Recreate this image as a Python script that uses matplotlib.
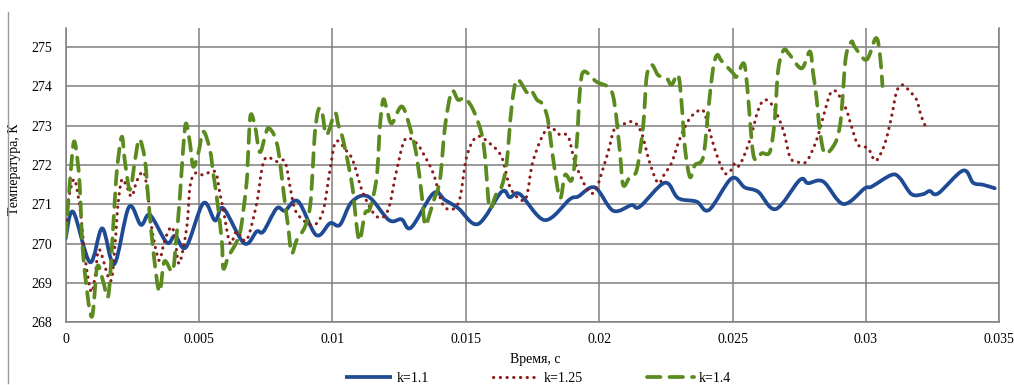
import numpy as np
import matplotlib
matplotlib.use("Agg")
import matplotlib.pyplot as plt
from matplotlib.lines import Line2D
from matplotlib.path import Path
from matplotlib.patches import PathPatch

plt.rcParams['font.family'] = ['Liberation Serif', 'DejaVu Serif']

# ---- data (time in ms, temperature in K) ----
t_k11_ms = [0.00, 0.28, 0.91, 1.37, 1.82, 2.37, 2.82, 3.16, 3.79, 4.10, 4.51, 5.16, 5.60, 5.91,
            6.69, 7.16, 7.41, 7.91, 8.22, 8.71, 9.39, 9.91, 10.28, 10.72, 11.34, 12.12, 12.59,
            12.95, 13.78, 14.22, 14.72, 15.46, 16.34, 16.65, 17.03, 17.96, 18.90, 19.21, 19.84,
            20.52, 21.21, 21.52, 22.46, 22.96, 23.65, 24.12, 24.96, 25.46, 25.96, 26.62, 27.52,
            27.83, 28.40, 29.15, 29.96, 30.21, 30.96, 31.27, 31.71, 32.14, 32.39, 32.71, 33.64,
            34.02, 34.39, 34.83]
T_k11 = [270.14, 270.81, 269.53, 270.39, 269.48, 270.93, 270.48, 270.73, 270.03, 270.20, 269.91,
         271.03, 270.59, 270.90, 270.01, 270.31, 270.31, 270.90, 270.84, 271.08, 270.22, 270.52,
         270.48, 271.06, 271.20, 270.60, 270.62, 270.41, 271.28, 271.11, 270.90, 270.50, 271.32,
         271.18, 271.26, 270.60, 271.13, 271.20, 271.43, 270.84, 270.98, 270.94, 271.55, 271.16,
         271.07, 270.86, 271.66, 271.43, 271.32, 270.88, 271.62, 271.54, 271.58, 271.01, 271.41,
         271.45, 271.75, 271.67, 271.26, 271.26, 271.34, 271.28, 271.86, 271.55, 271.50, 271.41]

t_k125_ms = [0.00, 0.10, 0.31, 0.47, 0.60, 0.72, 0.95, 1.10, 1.26, 1.68, 1.85, 1.96, 2.10, 2.26,
             2.47, 2.67, 2.91, 3.05, 3.22, 3.41, 3.53, 3.72, 3.97, 4.10, 4.26, 4.54, 4.66, 4.85,
             5.16, 5.60, 5.78, 5.91, 6.16, 6.41, 6.78, 7.16, 7.35, 7.53, 7.91, 8.22, 8.41, 8.60,
             8.97, 9.34, 9.66, 9.91, 10.13, 10.53, 10.78, 11.15, 11.66, 12.08, 12.41, 12.72, 13.13,
             13.40, 13.78, 14.18, 14.72, 15.03, 15.41, 15.90, 16.34, 16.65, 17.03, 17.28, 17.53,
             18.06, 18.53, 18.84, 19.15, 19.75, 20.28, 20.59, 21.03, 21.30, 21.59, 21.90, 22.21,
             22.46, 22.71, 23.03, 23.40, 23.78, 23.96, 24.27, 24.52, 24.71, 24.90, 25.09, 25.27,
             25.65, 25.96, 26.21, 26.52, 26.90, 27.15, 27.40, 27.77, 28.15, 28.40, 28.65, 28.84,
             29.02, 29.27, 29.46, 29.71, 30.08, 30.37, 30.71, 30.96, 31.15, 31.37, 31.65, 31.90,
             32.08, 32.29]
T_k125 = [270.43, 271.11, 271.64, 271.20, 270.52, 269.67, 268.78, 269.16, 269.85, 269.05, 270.00,
          271.00, 271.62, 271.50, 271.20, 271.60, 271.83, 271.40, 270.43, 269.76, 269.59, 270.10,
          270.43, 270.10, 269.50, 270.43, 271.45, 271.79, 271.75, 271.83, 271.28, 270.86, 270.01,
          270.31, 270.09, 271.03, 271.88, 272.20, 272.09, 272.09, 271.45, 270.86, 270.56, 270.48,
          270.86, 271.88, 272.60, 272.36, 272.09, 271.28, 270.69, 270.85, 271.88, 272.65, 272.57,
          272.30, 271.79, 270.95, 271.03, 272.21, 272.72, 272.55, 272.21, 271.45, 271.13, 271.20,
          272.13, 272.94, 272.77, 272.72, 271.96, 271.28, 272.21, 272.94, 273.06, 273.10, 272.81,
          272.05, 271.54, 271.79, 272.05, 272.68, 273.19, 273.40, 273.30, 272.55, 272.05, 271.79,
          271.83, 272.05, 272.00, 272.64, 273.40, 273.66, 273.49, 272.89, 272.21, 272.09, 272.09,
          272.64, 273.23, 273.80, 273.89, 273.74, 273.40, 272.98, 272.51, 272.43, 272.11, 272.55,
          273.23, 273.87, 274.04, 273.87, 273.66, 273.23, 272.91]

t_k14_ms = [0.00, 0.16, 0.31, 0.47, 0.54, 0.66, 0.97, 1.18, 1.39, 1.60, 1.78, 1.91, 2.10, 2.22,
            2.41, 2.60, 2.76, 2.97, 3.10, 3.28, 3.51, 3.70, 4.00, 4.13, 4.28, 4.41, 4.51, 4.66,
            4.78, 4.97, 5.16, 5.41, 5.53, 5.66, 5.85, 5.91, 6.10, 6.41, 6.57, 6.78, 6.84, 6.93,
            7.10, 7.22, 7.31, 7.47, 7.59, 7.81, 7.97, 8.10, 8.22, 8.34, 8.47, 8.66, 8.97, 9.16,
            9.26, 9.34, 9.47, 9.61, 9.78, 10.09, 10.22, 10.40, 10.66, 10.78, 10.91, 11.03, 11.22,
            11.41, 11.66, 11.78, 11.90, 12.03, 12.22, 12.61, 12.97, 13.16, 13.34, 13.47, 13.65,
            13.78, 14.03, 14.22, 14.47, 14.71, 14.97, 15.28, 15.59, 15.72, 15.78, 15.90, 16.15,
            16.34, 16.53, 16.72, 16.92, 17.29, 17.44, 17.67, 17.85, 18.04, 18.15, 18.28, 18.53,
            18.72, 18.97, 19.15, 19.28, 19.43, 19.90, 20.40, 20.59, 20.78, 20.90, 21.15, 21.41,
            21.65, 21.78, 21.97, 22.21, 22.53, 22.71, 22.96, 23.09, 23.21, 23.40, 23.59, 23.90,
            24.09, 24.27, 24.42, 24.59, 25.02, 25.15, 25.42, 25.55, 25.65, 25.77, 25.90, 26.09,
            26.40, 26.58, 26.71, 26.92, 27.15, 27.59, 27.90, 28.02, 28.15, 28.27, 28.46, 28.84,
            29.02, 29.11, 29.25, 29.46, 29.59, 30.02, 30.37, 30.52, 30.62]
T_k14 = [270.18, 271.60, 272.60, 271.96, 271.28, 269.67, 268.14, 269.41, 269.08, 268.69, 270.43,
         271.79, 272.72, 272.09, 271.37, 272.13, 272.66, 272.13, 271.11, 269.84, 268.78, 269.55,
         269.30, 270.00, 271.20, 272.47, 273.06, 272.55, 271.96, 272.30, 272.85, 272.38, 271.79,
         271.20, 270.09, 269.37, 269.67, 270.05, 270.40, 271.54, 272.30, 273.27, 272.98, 272.47,
         272.34, 272.72, 272.94, 272.77, 272.38, 271.70, 271.03, 270.43, 269.76, 270.09, 270.43,
         270.94, 271.88, 272.81, 273.40, 273.35, 272.77, 273.32, 273.02, 272.64, 271.79, 271.28,
         270.43, 270.09, 270.77, 270.90, 271.70, 272.98, 273.66, 273.45, 273.06, 273.49, 272.80,
         272.21, 271.28, 270.48, 270.77, 271.07, 271.62, 272.98, 273.87, 273.66, 273.70, 273.40,
         272.81, 272.21, 271.70, 270.90, 271.28, 271.45, 272.05, 273.49, 274.17, 273.85, 273.91,
         273.66, 273.57, 273.27, 272.81, 272.13, 271.16, 271.75, 271.62, 272.47, 273.91, 274.38,
         274.12, 273.95, 273.49, 272.30, 271.49, 271.70, 271.88, 273.00, 274.25, 274.55, 274.29,
         274.21, 274.04, 274.29, 273.57, 272.47, 271.70, 272.00, 272.21, 273.40, 274.46, 274.80,
         274.65, 274.34, 274.25, 274.59, 273.99, 273.15, 272.30, 272.13, 272.30, 272.34, 273.15,
         274.42, 274.93, 274.80, 274.46, 274.89, 274.34, 273.70, 272.89, 272.30, 272.55, 272.98,
         273.57, 274.76, 275.14, 275.00, 274.68, 275.23, 274.85, 274.01]

x_ticks = [0, 0.005, 0.01, 0.015, 0.02, 0.025, 0.03, 0.035]
x_tick_labels = ['0', '0.005', '0.01', '0.015', '0.02', '0.025', '0.03', '0.035']
y_ticks = [268, 269, 270, 271, 272, 273, 274, 275]
series_labels = ['k=1.1', 'k=1.25', 'k=1.4']

t_k11 = np.array(t_k11_ms) / 1000.0
t_k125 = np.array(t_k125_ms) / 1000.0
t_k14 = np.array(t_k14_ms) / 1000.0


def smooth_path(x, y):
    """Excel-style smoothed line: cubic Bezier segments through the data points."""
    p = np.column_stack([x, y])
    n = len(p)
    verts = [p[0]]
    codes = [Path.MOVETO]
    for i in range(n - 1):
        p0 = p[i - 1] if i > 0 else p[i]
        p1 = p[i]
        p2 = p[i + 1]
        p3 = p[i + 2] if i + 2 < n else p[i + 1]
        c1 = p1 + (p2 - p0) / 6.0
        c2 = p2 - (p3 - p1) / 6.0
        verts += [c1, c2, p2]
        codes += [Path.CURVE4] * 3
    return Path(verts, codes)


# ---- figure ----
fig = plt.figure(figsize=(10.14, 3.85), dpi=100)
ax = fig.add_axes([65.7 / 1014, 1 - 322.3 / 385, (999.3 - 65.7) / 1014, (322.3 - 28.3) / 385])

grid_c = '#7f7f7f'
styles = [
    dict(color='#1f4a94', lw=2.7, ls='-'),
    dict(color='#8b1a1a', lw=2.2, ls=(0, (0.1, 2.1))),
    dict(color='#5b8a1f', lw=2.7, ls=(0, (3.6, 2.4))),
]
series = [(t_k11, T_k11), (t_k125, T_k125), (t_k14, T_k14)]
handles = []
for (tx, ty), st, lab in zip(series, styles, series_labels):
    patch = PathPatch(smooth_path(tx, ty), fill=False, edgecolor=st['color'], lw=st['lw'],
                      linestyle=st['ls'], capstyle='round', joinstyle='round', zorder=3)
    ax.add_patch(patch)
    handles.append(Line2D([], [], color=st['color'], lw=st['lw'], linestyle=st['ls'],
                          dash_capstyle='round', solid_capstyle='butt', label=lab))

ax.set_xlim(0, 0.035)
ax.set_ylim(268, 275.48)
ax.set_xticks(x_ticks)
ax.set_xticklabels(x_tick_labels)
ax.set_yticks(y_ticks)
ax.grid(True, color=grid_c, lw=1.1)
ax.set_axisbelow(True)
ax.tick_params(axis='both', length=0, labelsize=10, colors='black')
ax.tick_params(axis='x', pad=8)
ax.tick_params(axis='y', pad=10)
for s in ['left', 'bottom', 'right']:
    ax.spines[s].set_color(grid_c)
    ax.spines[s].set_linewidth(1.1)
ax.spines['top'].set_visible(False)

ax.set_ylabel('Температура, К', fontsize=10)
ax.yaxis.set_label_coords(-0.048, 0.52)
fig.text(535 / 1014, 1 - 359 / 385, 'Время, с', ha='center', va='center', fontsize=10)

fig.legend(handles=handles, loc='center', bbox_to_anchor=(538 / 1014, 1 - 378.5 / 385), ncol=3,
           frameon=False, fontsize=10, handlelength=3.4, handletextpad=0.3, columnspacing=4.6,
           borderaxespad=0, borderpad=0)

# chart-area left border
fig.add_artist(Line2D([8.3 / 1014, 8.3 / 1014], [1 - 383 / 385, 1 - 12 / 385],
                      transform=fig.transFigure, color='#9a9a9a', lw=1.0))

fig.savefig('out.png', dpi=100)
